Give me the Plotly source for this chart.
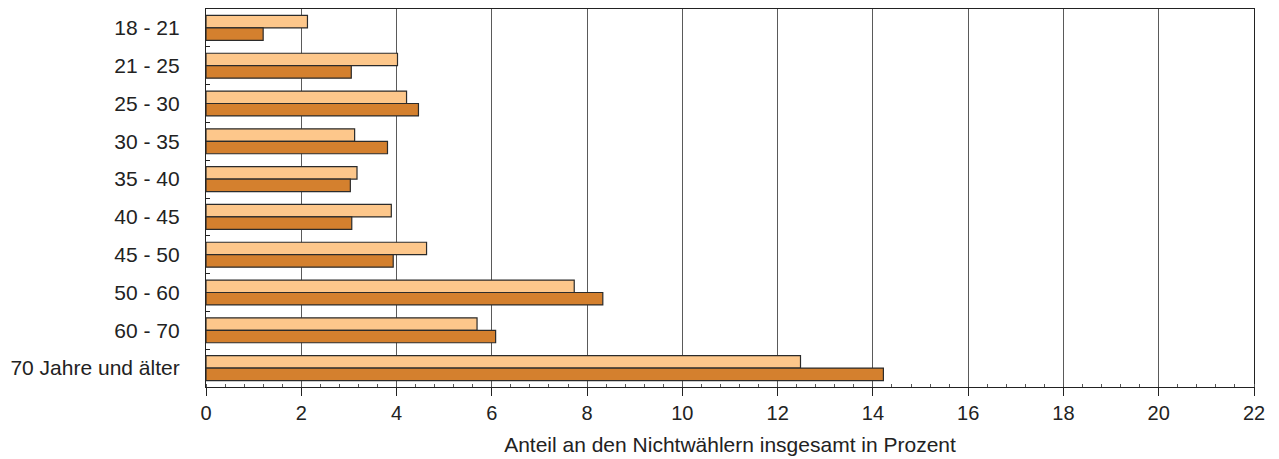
import plotly.graph_objects as go

categories = ["18 - 21", "21 - 25", "25 - 30", "30 - 35", "35 - 40",
              "40 - 45", "45 - 50", "50 - 60", "60 - 70", "70 Jahre und älter"]
series_light = [2.13, 4.02, 4.21, 3.12, 3.17, 3.89, 4.63, 7.73, 5.69, 12.48]
series_dark = [1.20, 3.05, 4.46, 3.81, 3.03, 3.06, 3.93, 8.33, 6.08, 14.22]
x_tick_values = list(range(0, 23, 2))
x_title = "Anteil an den Nichtwählern insgesamt in Prozent"

font_family = "Liberation Sans, Arial, sans-serif"
text_color = "#222222"

fig = go.Figure()
fig.add_trace(go.Bar(
    y=categories, x=series_light, orientation="h",
    marker=dict(color="#FDC78B", line=dict(color="#2b2b2b", width=1.2)),
    showlegend=False, hoverinfo="x+y"))
fig.add_trace(go.Bar(
    y=categories, x=series_dark, orientation="h",
    marker=dict(color="#D4802E", line=dict(color="#2b2b2b", width=1.2)),
    showlegend=False, hoverinfo="x+y"))

# page body adds an 8px offset, so the figure is sized 1271x451
fig.update_layout(
    width=1271, height=451,
    margin=dict(l=198, r=25, t=1, b=72),
    barmode="group", bargap=0.34, bargroupgap=0,
    plot_bgcolor="white", paper_bgcolor="white",
    font=dict(family=font_family, size=20, color=text_color),
)
fig.update_xaxes(
    range=[0, 22], tickvals=x_tick_values,
    showgrid=True, gridcolor="#5a5a5a", gridwidth=1,
    showline=True, linecolor="#222222", linewidth=1.2, mirror=True,
    ticks="outside", ticklen=8, tickcolor="#222222", tickwidth=1.2,
    minor=dict(dtick=0.4, ticks="inside", ticklen=3, tickcolor="#555555", showgrid=False),
    zeroline=False,
    title=dict(text=x_title, font=dict(size=21, color=text_color), standoff=14),
    tickfont=dict(size=20, color=text_color),
)
fig.update_yaxes(
    autorange="reversed",
    showline=True, linecolor="#222222", linewidth=1.2, mirror=True,
    ticks="inside", tickson="boundaries", ticklen=4, tickcolor="#222222",
    showgrid=False,
    tickfont=dict(size=21, color=text_color),
    ticklabelstandoff=21,
)

fig.write_html("out.html")
